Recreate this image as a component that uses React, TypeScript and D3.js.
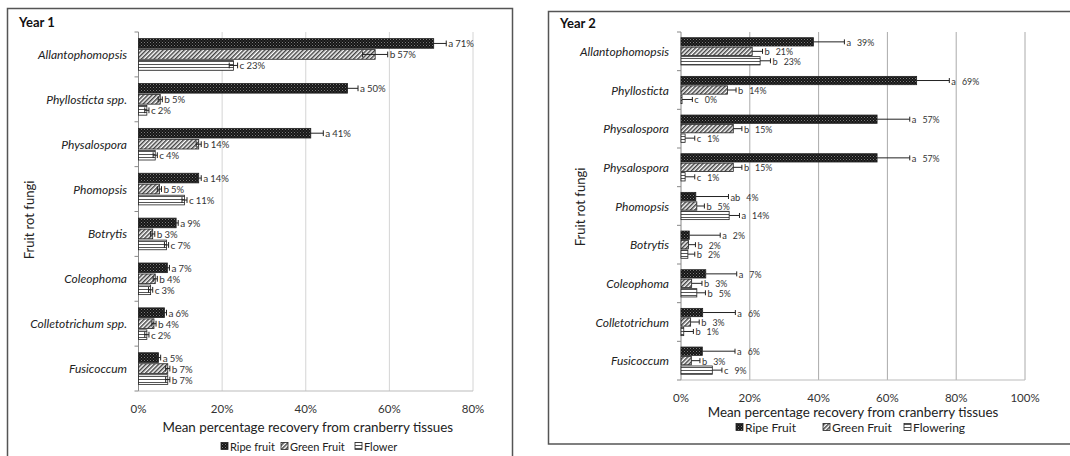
import React from "react";
import * as d3 from "d3";

// ---------- Data ----------
const seriesNames1 = ["Ripe fruit", "Green Fruit", "Flower"];
const seriesNames2 = ["Ripe Fruit", "Green Fruit", "Flowering"];

const year1Categories = [
  "Allantophomopsis",
  "Phyllosticta spp.",
  "Physalospora",
  "Phomopsis",
  "Botrytis",
  "Coleophoma",
  "Colletotrichum spp.",
  "Fusicoccum",
];
const year1Ripe = [70.6, 50, 41.2, 14.4, 9, 6.9, 6.2, 4.8];
const year1Green = [56.6, 5.2, 14.4, 5, 3.4, 4, 3.7, 7];
const year1Flower = [22.7, 2, 4, 11, 6.7, 2.9, 2, 7];
const year1ErrRipe = [3, 2.5, 3, 0.6, 0.5, 0.5, 0.5, 0.5];
const year1ErrGreen = [3, 0.5, 0.6, 0.5, 0.5, 0.5, 0.5, 0.5];
const year1ErrFlower = [1, 0.5, 0.5, 0.6, 0.5, 0.5, 0.5, 0.5];
const year1LetRipe = ["a", "a", "a", "a", "a", "a", "a", "a"];
const year1LetGreen = ["b", "b", "b", "b", "b", "b", "b", "b"];
const year1LetFlower = ["c", "c", "c", "c", "c", "c", "c", "b"];
const year1Ticks = [0, 20, 40, 60, 80];

const year2Categories = [
  "Allantophomopsis",
  "Phyllosticta",
  "Physalospora",
  "Physalospora",
  "Phomopsis",
  "Botrytis",
  "Coleophoma",
  "Colletotrichum",
  "Fusicoccum",
];
const year2Ripe = [38.5, 68.5, 57, 57, 4.3, 2.4, 7.2, 6.3, 6.2];
const year2Green = [20.7, 13.5, 15.2, 15.2, 4.6, 2.2, 3.1, 2.8, 3];
const year2Flower = [23, 0.3, 1.2, 1.2, 14, 2, 4.6, 0.8, 9.1];
const year2ErrRipe = [9, 9.5, 9.5, 9.5, 9.5, 9, 9, 9.5, 9.5];
const year2ErrGreen = [3, 2.5, 2.5, 2.5, 2.2, 2, 3, 2.5, 2.5];
const year2ErrFlower = [3, 3, 2.8, 2.8, 3, 2, 2.5, 2.8, 2.8];
const year2LetRipe = ["a", "a", "a", "a", "ab", "a", "a", "a", "a"];
const year2LetGreen = ["b", "b", "b", "b", "b", "b", "b", "b", "b"];
const year2LetFlower = ["b", "c", "c", "c", "a", "b", "b", "b", "c"];
const year2Ticks = [0, 20, 40, 60, 80, 100];

const FONT = "Lato, 'Open Sans', sans-serif";
const fills = ["url(#pRipe)", "url(#pGreen)", "url(#pFlower)"];

type PanelProps = {
  title: string;
  frame: { x: number; y: number; w: number; h: number };
  titlePos: [number, number];
  categories: string[];
  series: number[][];
  errs: number[][];
  letters: string[][];
  ticks: number[];
  xMax: number;
  xRange: [number, number];
  yRange: [number, number];
  labelRight: number;
  tickY: number;
  axisTitleY: number;
  legendY: number;
  legendXs: number[];
  legendNames: string[];
  legendFont: number;
  yTitlePos: [number, number];
  twoSided: boolean;
  valueGap: number;
  labelFont: number;
  gridColor: string;
};

function Panel(p: PanelProps) {
  const x = d3.scaleLinear().domain([0, p.xMax]).range(p.xRange);
  const idx = p.categories.map((_, i) => String(i));
  const y = d3.scaleBand().domain(idx).range(p.yRange).paddingInner(0).paddingOuter(0);
  const bw = y.bandwidth();
  const barH = bw * 0.215;
  const step = bw * 0.245;
  const groupH = step * 2 + barH;
  const off = (bw - groupH) / 2;
  const [x0, x1] = p.xRange;
  const [y0, y1] = p.yRange;
  const boundaries = idx.map((d) => y(d) as number).concat([y1]);
  return (
    <g>
      <rect x={p.frame.x} y={p.frame.y} width={p.frame.w} height={p.frame.h} fill="#fff" stroke="#555" strokeWidth={1.5} />
      <text x={p.titlePos[0]} y={p.titlePos[1]} fontFamily={FONT} fontWeight="bold" fontSize={13} fill="#111">
        {p.title}
      </text>
      {p.ticks.filter((t) => t > 0).map((t) => (
        <line key={"g" + t} x1={x(t)} x2={x(t)} y1={y0} y2={y1} stroke={p.gridColor} strokeWidth={1} />
      ))}
      <line x1={x0} x2={x0} y1={y0} y2={y1} stroke="#888" />
      <line x1={x0} x2={x1} y1={y1} y2={y1} stroke="#bbb" />
      {boundaries.map((b, i) => (
        <line key={"t" + i} x1={x0 - 4} x2={x0} y1={b} y2={b} stroke="#888" />
      ))}
      {p.ticks.map((t) => (
        <text key={"tl" + t} x={x(t)} y={p.tickY} textAnchor="middle" dominantBaseline="central" fontFamily={FONT} fontSize={11.5} fill="#333">
          {t + "%"}
        </text>
      ))}
      <text x={(x0 + x1) / 2 + (p.twoSided ? 2 : 0)} y={p.axisTitleY} textAnchor="middle" dominantBaseline="central" fontFamily={FONT} fontSize={13.4} fill="#222">
        Mean percentage recovery from cranberry tissues
      </text>
      <text transform={`translate(${p.yTitlePos[0]},${p.yTitlePos[1]}) rotate(-90)`} textAnchor="middle" dominantBaseline="central" fontFamily={FONT} fontSize={13} fill="#222">
        Fruit rot fungi
      </text>
      {p.categories.map((c, i) => (
        <text key={"c" + i} x={p.labelRight} y={(y(String(i)) as number) + bw / 2} textAnchor="end" dominantBaseline="central" fontFamily={FONT} fontStyle="italic" fontSize={12} fill="#222">
          {c}
        </text>
      ))}
      {p.series.map((vals, s) =>
        vals.map((v, i) => {
          const by = (y(String(i)) as number) + off + s * step;
          const xe = x(v);
          const err = p.errs[s][i];
          const xe2 = x(v + err);
          const xe1 = x(Math.max(0, v - err));
          const cy = by + barH / 2;
          const capH = barH * 0.6;
          return (
            <g key={`b${s}-${i}`}>
              <rect x={x0} y={by} width={Math.max(0, xe - x0)} height={barH} fill={fills[s]} stroke="#222" strokeWidth={0.8} />
              <line x1={p.twoSided ? xe1 : xe} x2={xe2} y1={cy} y2={cy} stroke="#222" strokeWidth={1} />
              <line x1={xe2} x2={xe2} y1={cy - capH / 2} y2={cy + capH / 2} stroke="#222" strokeWidth={1} />
              {p.twoSided && <line x1={xe1} x2={xe1} y1={cy - capH / 2} y2={cy + capH / 2} stroke="#222" strokeWidth={1} />}
              <text x={xe2 + 2} y={cy} dominantBaseline="central" fontFamily={FONT} fontSize={p.labelFont} fill="#333">
                <tspan fontSize={p.labelFont + 0.5}>{p.letters[s][i]}</tspan>
                <tspan dx={p.valueGap}>{Math.round(v) + "%"}</tspan>
              </text>
            </g>
          );
        })
      )}
      {p.legendNames.map((n, s) => (
        <g key={"l" + s}>
          <rect x={p.legendXs[s]} y={p.legendY - 3.5} width={7} height={7} fill={fills[s]} stroke="#222" strokeWidth={0.8} />
          <text x={p.legendXs[s] + 9} y={p.legendY} dominantBaseline="central" fontFamily={FONT} fontSize={p.legendFont} fill="#222">
            {n}
          </text>
        </g>
      ))}
    </g>
  );
}

export default function App() {
  return (
    <svg width={1070} height={456} style={{ position: "absolute", left: 0, top: 0, background: "#fff" }}>
      <defs>
        <pattern id="pRipe" width={3} height={3} patternUnits="userSpaceOnUse">
          <rect width={3} height={3} fill="#151515" />
          <rect x={0} y={0} width={1} height={1} fill="#7a7a7a" />
          <rect x={1.5} y={1.5} width={1} height={1} fill="#5a5a5a" />
        </pattern>
        <pattern id="pGreen" width={3} height={3} patternUnits="userSpaceOnUse" patternTransform="rotate(45)">
          <rect width={3} height={3} fill="#fff" />
          <rect width={1.5} height={3} fill="#444" />
        </pattern>
        <pattern id="pFlower" width={3} height={3} patternUnits="userSpaceOnUse">
          <rect width={3} height={3} fill="#fff" />
          <rect width={3} height={1} y={1} fill="#555" />
        </pattern>
      </defs>
      <Panel
        title="Year 1"
        frame={{ x: 7.5, y: 8.5, w: 505, h: 470 }}
        titlePos={[19, 27]}
        categories={year1Categories}
        series={[year1Ripe, year1Green, year1Flower]}
        errs={[year1ErrRipe, year1ErrGreen, year1ErrFlower]}
        letters={[year1LetRipe, year1LetGreen, year1LetFlower]}
        ticks={year1Ticks}
        xMax={80}
        xRange={[138.5, 473]}
        yRange={[32, 391]}
        labelRight={127}
        tickY={408}
        axisTitleY={427}
        legendY={446}
        legendXs={[221, 281, 355]}
        legendNames={seriesNames1}
        legendFont={11}
        yTitlePos={[29, 220]}
        twoSided={true}
        valueGap={2}
        labelFont={9.5}
        gridColor="#d4d4d4"
      />
      <Panel
        title="Year 2"
        frame={{ x: 548.5, y: 11.5, w: 540, h: 432.5 }}
        titlePos={[560, 28]}
        categories={year2Categories}
        series={[year2Ripe, year2Green, year2Flower]}
        errs={[year2ErrRipe, year2ErrGreen, year2ErrFlower]}
        letters={[year2LetRipe, year2LetGreen, year2LetFlower]}
        ticks={year2Ticks}
        xMax={100}
        xRange={[681, 1025]}
        yRange={[32, 380]}
        labelRight={669}
        tickY={397}
        axisTitleY={412}
        legendY={427}
        legendXs={[736, 823, 904]}
        legendNames={seriesNames2}
        legendFont={12}
        yTitlePos={[580, 207]}
        twoSided={false}
        valueGap={6}
        labelFont={8.8}
        gridColor="#aaaaaa"
      />
    </svg>
  );
}
